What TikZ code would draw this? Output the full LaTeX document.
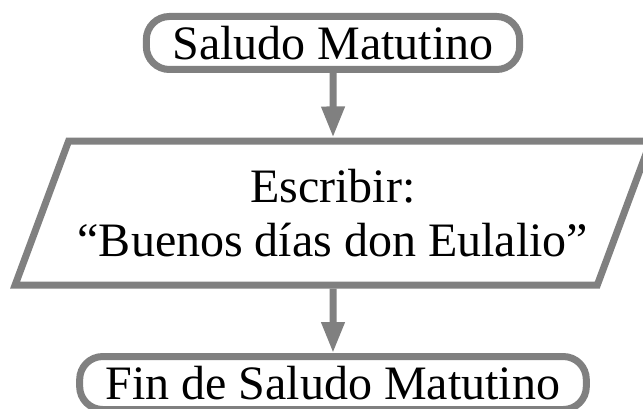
\documentclass[tikz,border=0pt]{standalone}
\usepackage{fontspec}
\setmainfont{Liberation Serif}
\usetikzlibrary{chains,shapes.geometric,arrows.meta}

\begin{document}
\begin{tikzpicture}[auto,
  node distance = 64.5pt,
  start chain = going below,
  txt/.style = {font=\fontsize{48}{54}\selectfont},
  base/.style = {draw=gray, line width=7pt
    , fill=white, txt
    , on chain, align=center},
  term/.style = {base, rounded corners=23pt
    , minimum height=53pt, inner xsep=26pt},
  io/.style = {base, trapezium, trapezium left angle=61
    , trapezium right angle=119, trapezium stretches=true
    , minimum width=638pt, minimum height=144pt}]

 \useasboundingbox (-333pt,43pt) rectangle (310pt,-366pt);

 \node[term] (b1) at (0,0) {Saludo Matutino};
 \node[io]   (b2) {Escribir:\\``Buenos días don Eulalio''};
 \node[term] (b3) {Fin de Saludo Matutino};

 \begin{scope}[draw=gray, line width=7pt
    , -{Triangle[length=31pt,width=22pt]}]
  \path (b1) edge (b2);
  \path (b2) edge (b3);
 \end{scope}
\end{tikzpicture}
\end{document}
